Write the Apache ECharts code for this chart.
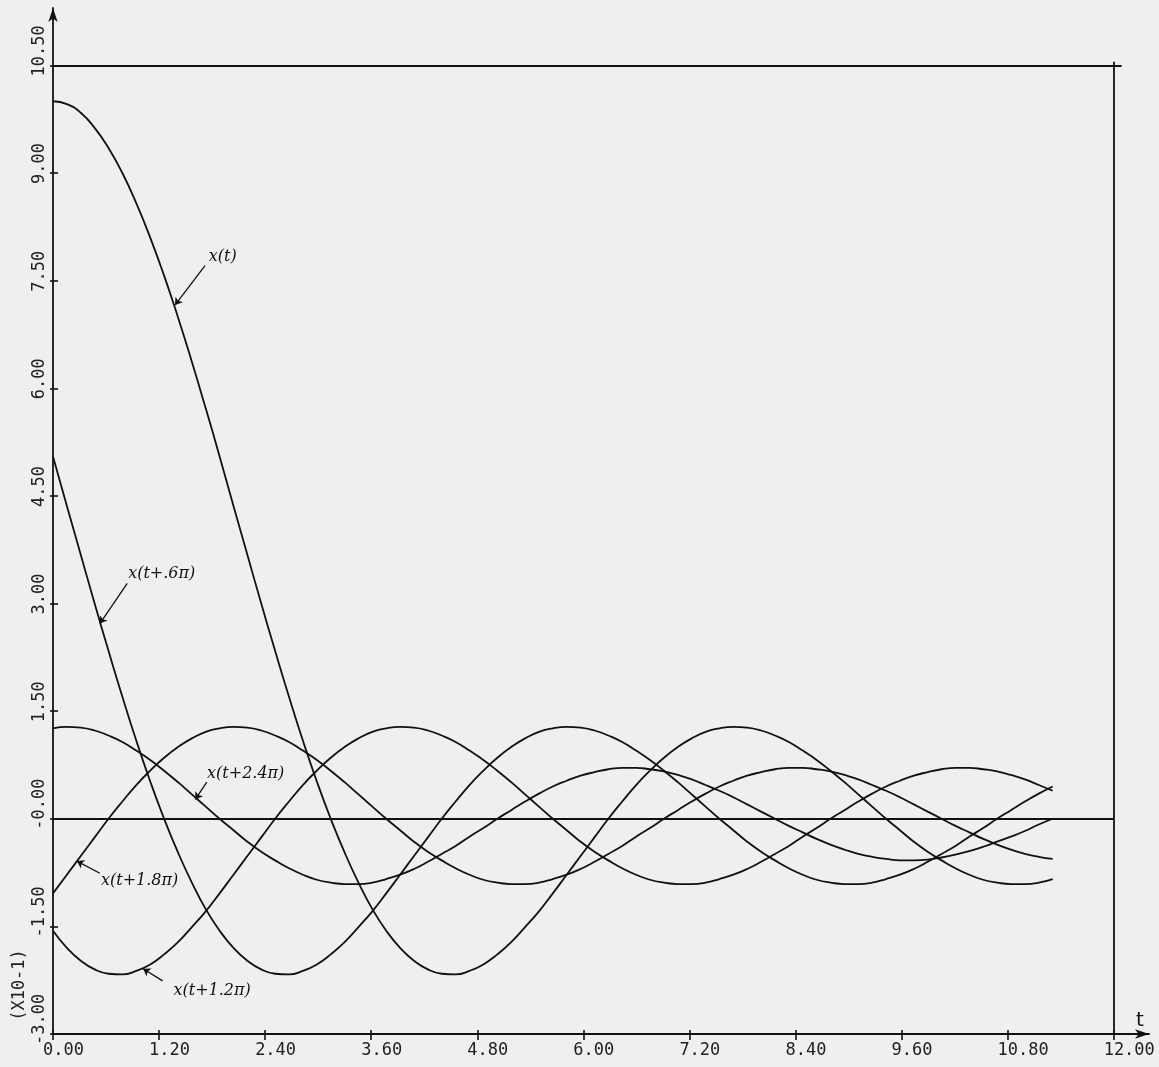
<!DOCTYPE html>
<html>
<head>
<meta charset="utf-8">
<title>x(t) shifted by multiples of .6π</title>
<script src="https://cdn.jsdelivr.net/npm/echarts@6/dist/echarts.min.js"></script>
<style>
    html, body { margin: 0; padding: 0; background: #efefed; }
    #chart { width: 1159px; height: 1067px; }
</style>
</head>
<body>
<div id="chart"></div>
<script>
// t 取样点 (步长约 0.05π, 0 .. 3.6π)
var tValues = [0.000, 0.157, 0.314, 0.471, 0.628, 0.785, 0.942, 1.100, 1.257, 1.414, 1.571, 1.728, 1.885,
    2.042, 2.199, 2.356, 2.513, 2.670, 2.827, 2.985, 3.142, 3.299, 3.456, 3.613, 3.770, 3.927, 4.084, 4.241,
    4.398, 4.555, 4.712, 4.869, 5.027, 5.184, 5.341, 5.498, 5.655, 5.812, 5.969, 6.126, 6.283, 6.440, 6.597,
    6.754, 6.912, 7.069, 7.226, 7.383, 7.540, 7.697, 7.854, 8.011, 8.168, 8.325, 8.482, 8.639, 8.796, 8.954,
    9.111, 9.268, 9.425, 9.582, 9.739, 9.896, 10.053, 10.210, 10.367, 10.524, 10.681, 10.838, 10.996, 11.153, 11.310];

// 各曲线的值 (单位 X10^-1)
var xt = [10.00, 9.96, 9.84, 9.63, 9.35, 9.00, 8.58, 8.10, 7.57, 6.99, 6.37, 5.72, 5.05,
    4.36, 3.68, 3.00, 2.34, 1.70, 1.09, 0.52, 0.00, -0.47, -0.89, -1.26, -1.56, -1.80, -1.98, -2.10,
    -2.16, -2.17, -2.12, -2.03, -1.89, -1.72, -1.51, -1.29, -1.04, -0.78, -0.52, -0.26, 0.00, 0.24, 0.47,
    0.67, 0.85, 1.00, 1.12, 1.21, 1.26, 1.28, 1.27, 1.23, 1.16, 1.07, 0.95, 0.82, 0.67, 0.51,
    0.34, 0.17, 0.00, -0.16, -0.32, -0.46, -0.58, -0.69, -0.78, -0.85, -0.89, -0.91, -0.91, -0.89, -0.84];
var xt06 = [5.05, 4.36, 3.68, 3.00, 2.34, 1.70, 1.09, 0.52, 0.00, -0.47, -0.89, -1.26, -1.56,
    -1.80, -1.98, -2.10, -2.16, -2.17, -2.12, -2.03, -1.89, -1.72, -1.51, -1.29, -1.04, -0.78, -0.52, -0.26,
    0.00, 0.24, 0.47, 0.67, 0.85, 1.00, 1.12, 1.21, 1.26, 1.28, 1.27, 1.23, 1.16, 1.07, 0.95,
    0.82, 0.67, 0.51, 0.34, 0.17, 0.00, -0.16, -0.32, -0.46, -0.58, -0.69, -0.78, -0.85, -0.89, -0.91,
    -0.91, -0.89, -0.84, -0.78, -0.70, -0.60, -0.49, -0.38, -0.25, -0.13, 0.00, 0.12, 0.24, 0.35, 0.45];
var xt12 = [-1.56, -1.80, -1.98, -2.10, -2.16, -2.17, -2.12, -2.03, -1.89, -1.72, -1.51, -1.29, -1.04,
    -0.78, -0.52, -0.26, 0.00, 0.24, 0.47, 0.67, 0.85, 1.00, 1.12, 1.21, 1.26, 1.28, 1.27, 1.23,
    1.16, 1.07, 0.95, 0.82, 0.67, 0.51, 0.34, 0.17, 0.00, -0.16, -0.32, -0.46, -0.58, -0.69, -0.78,
    -0.85, -0.89, -0.91, -0.91, -0.89, -0.84, -0.78, -0.70, -0.60, -0.49, -0.38, -0.25, -0.13, 0.00, 0.12,
    0.24, 0.35, 0.45, 0.53, 0.60, 0.65, 0.69, 0.71, 0.71, 0.69, 0.66, 0.61, 0.55, 0.47, 0.39];
var xt18 = [-1.04, -0.78, -0.52, -0.26, 0.00, 0.24, 0.47, 0.67, 0.85, 1.00, 1.12, 1.21, 1.26,
    1.28, 1.27, 1.23, 1.16, 1.07, 0.95, 0.82, 0.67, 0.51, 0.34, 0.17, 0.00, -0.16, -0.32, -0.46,
    -0.58, -0.69, -0.78, -0.85, -0.89, -0.91, -0.91, -0.89, -0.84, -0.78, -0.70, -0.60, -0.49, -0.38, -0.25,
    -0.13, 0.00, 0.12, 0.24, 0.35, 0.45, 0.53, 0.60, 0.65, 0.69, 0.71, 0.71, 0.69, 0.66, 0.61,
    0.55, 0.47, 0.39, 0.30, 0.20, 0.10, 0.00, -0.10, -0.19, -0.28, -0.36, -0.43, -0.49, -0.53, -0.56];
var xt24 = [1.26, 1.28, 1.27, 1.23, 1.16, 1.07, 0.95, 0.82, 0.67, 0.51, 0.34, 0.17, 0.00,
    -0.16, -0.32, -0.46, -0.58, -0.69, -0.78, -0.85, -0.89, -0.91, -0.91, -0.89, -0.84, -0.78, -0.70, -0.60,
    -0.49, -0.38, -0.25, -0.13, 0.00, 0.12, 0.24, 0.35, 0.45, 0.53, 0.60, 0.65, 0.69, 0.71, 0.71,
    0.69, 0.66, 0.61, 0.55, 0.47, 0.39, 0.30, 0.20, 0.10, 0.00, -0.10, -0.19, -0.28, -0.36, -0.43,
    -0.49, -0.53, -0.56, -0.58, -0.58, -0.57, -0.54, -0.50, -0.45, -0.39, -0.32, -0.25, -0.17, -0.08, 0.00];

var curveNames = ['x(t)', 'x(t+.6π)', 'x(t+1.2π)', 'x(t+1.8π)', 'x(t+2.4π)'];

// 刻度
var xTicks = [0, 1.2, 2.4, 3.6, 4.8, 6, 7.2, 8.4, 9.6, 10.8, 12];
var xTickLabels = ['0.00', '1.20', '2.40', '3.60', '4.80', '6.00', '7.20', '8.40', '9.60', '10.80', '12.00'];
var yTicks = [-3, -1.5, 0, 1.5, 3, 4.5, 6, 7.5, 9, 10.5];
var yTickLabels = ['-3.00', '-1.50', '-0.00', '1.50', '3.00', '4.50', '6.00', '7.50', '9.00', '10.50'];

var ink = '#111111';
var tickFont = 'DejaVu Sans Mono';

function pairUp(values) {
    var pts = [];
    for (var i = 0; i < values.length; i++) {
        pts.push([tValues[i], values[i]]);
    }
    return pts;
}

function tickLabel(ticks, labels, v) {
    for (var i = 0; i < ticks.length; i++) {
        if (Math.abs(ticks[i] - v) < 1e-6) return labels[i];
    }
    return '';
}

// 手写注释: 文字中心, 箭头起点, 箭头终点 (数据坐标)
var notes = [
    { at: [1.92, 7.83], from: [1.72, 7.71], to: [1.38, 7.16] },
    { at: [1.23, 3.42], from: [0.84, 3.28], to: [0.53, 2.72] },
    { at: [1.80, -2.40], from: [1.24, -2.26], to: [1.02, -2.09] },
    { at: [0.98, -0.87], from: [0.53, -0.76], to: [0.27, -0.59] },
    { at: [2.18, 0.62], from: [1.74, 0.51], to: [1.61, 0.27] }
];

function curve(idx, values) {
    var note = notes[idx];
    return {
        name: curveNames[idx],
        type: 'line',
        data: pairUp(values),
        smooth: true,
        showSymbol: false,
        lineStyle: { color: ink, width: 1.8 },
        markPoint: {
            silent: true,
            symbol: 'circle',
            symbolSize: 0,
            label: {
                show: true,
                position: 'inside',
                formatter: curveNames[idx],
                color: ink,
                fontFamily: 'DejaVu Serif',
                fontStyle: 'italic',
                fontSize: 16
            },
            data: [{ coord: note.at }]
        },
        markLine: {
            silent: true,
            symbol: ['none', 'arrow'],
            symbolSize: 7,
            label: { show: false },
            lineStyle: { color: ink, width: 1.3, type: 'solid' },
            data: [[{ coord: note.from }, { coord: note.to }]]
        }
    };
}

var chart = echarts.init(document.getElementById('chart'));

var option = {
    animation: false,
    backgroundColor: '#efefed',
    grid: { left: 53, right: 10, top: 8, bottom: 33 },
    xAxis: [{
        type: 'value',
        min: 0,
        max: 12.4,
        position: 'bottom',
        name: 't',
        nameLocation: 'end',
        nameGap: -9,
        nameTextStyle: {
            color: ink, fontFamily: 'DejaVu Sans', fontSize: 20,
            align: 'center', verticalAlign: 'bottom', padding: [0, 0, 3, 0]
        },
        axisLine: {
            show: true, onZero: false,
            symbol: ['none', 'arrow'], symbolSize: [7, 14],
            lineStyle: { color: ink, width: 1.8 }
        },
        axisTick: { show: true, inside: false, length: 6, customValues: xTicks, lineStyle: { color: ink, width: 1.6 } },
        axisLabel: {
            show: true,
            customValues: xTicks,
            formatter: function (v) { return tickLabel(xTicks, xTickLabels, v); },
            align: 'left',
            padding: [0, 0, 0, -10],
            margin: 8,
            color: '#222',
            fontFamily: tickFont,
            fontSize: 17
        },
        splitLine: { show: false }
    }, {
        type: 'value',
        min: 0,
        max: 12.4,
        position: 'bottom',
        axisLine: { show: false, onZero: false },
        axisTick: { show: true, inside: true, length: 4, customValues: xTicks, lineStyle: { color: ink, width: 1.6 } },
        axisLabel: { show: false },
        splitLine: { show: false }
    }],
    yAxis: [{
        type: 'value',
        min: -3,
        max: 11.3,
        position: 'left',
        axisLine: {
            show: true, onZero: false,
            symbol: ['none', 'arrow'], symbolSize: [7, 14],
            lineStyle: { color: ink, width: 1.8 }
        },
        axisTick: { show: true, inside: true, length: 5, customValues: yTicks, lineStyle: { color: ink, width: 1.6 } },
        axisLabel: {
            show: true,
            customValues: yTicks,
            formatter: function (v) { return tickLabel(yTicks, yTickLabels, v); },
            rotate: 90,
            align: 'left',
            verticalAlign: 'middle',
            padding: [0, 0, 0, -11],
            margin: 13,
            color: '#222',
            fontFamily: tickFont,
            fontSize: 17
        },
        splitLine: { show: false }
    }, {
        type: 'value',
        min: -3,
        max: 11.3,
        position: 'left',
        axisLine: { show: false, onZero: false },
        axisTick: { show: true, inside: false, length: 3, customValues: yTicks, lineStyle: { color: ink, width: 1.6 } },
        axisLabel: { show: false },
        splitLine: { show: false }
    }],
    graphic: [{
        type: 'text',
        x: 20,
        y: 985,
        rotation: Math.PI / 2,
        style: {
            text: '(X10-1)',
            fill: '#222',
            font: '17px "DejaVu Sans Mono"',
            align: 'center',
            verticalAlign: 'middle'
        }
    }],
    series: [
        curve(0, xt),
        curve(1, xt06),
        curve(2, xt12),
        curve(3, xt18),
        curve(4, xt24),
        {
            // 边框线与零线
            name: 'frame',
            type: 'line',
            data: [],
            markLine: {
                silent: true,
                symbol: ['none', 'none'],
                label: { show: false },
                lineStyle: { color: ink, width: 1.8, type: 'solid' },
                data: [
                    [{ coord: [0, 10.5] }, { coord: [12.09, 10.5] }],
                    [{ coord: [12, -3] }, { coord: [12, 10.55] }],
                    [{ coord: [0, 0] }, { coord: [12, 0] }]
                ]
            }
        }
    ]
};

chart.setOption(option);
</script>
</body>
</html>
